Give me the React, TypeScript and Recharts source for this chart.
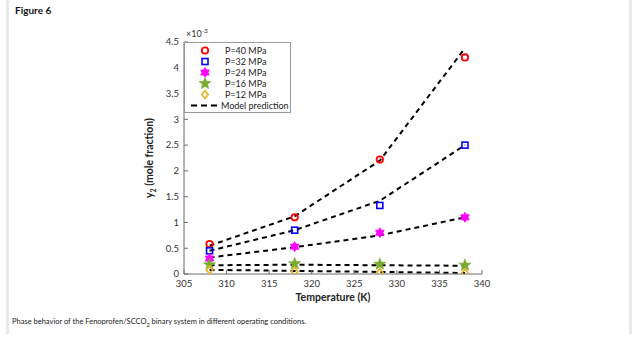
import React from "react";
import { ComposedChart, Line, Scatter, XAxis, YAxis } from "recharts";

// temperatures (K)
const temps = [308, 318, 328, 338];
const xTicks = [305, 310, 315, 320, 325, 330, 335, 340];
const yTicks = [0, 0.5, 1, 1.5, 2, 2.5, 3, 3.5, 4, 4.5];

// measured y2 (x 1e-3)
const p40 = [0.58, 1.1, 2.22, 4.2];
const p32 = [0.45, 0.85, 1.33, 2.5];
const p24 = [0.3, 0.53, 0.8, 1.1];
const p16 = [0.18, 0.2, 0.19, 0.17];
const p12 = [0.08, 0.05, 0.03, 0.02];

// model prediction (x 1e-3)
const m40 = [0.55, 1.12, 2.2, 4.38];
const m32 = [0.45, 0.85, 1.42, 2.5];
const m24 = [0.32, 0.52, 0.75, 1.1];
const m16 = [0.17, 0.18, 0.17, 0.16];
const m12 = [0.08, 0.06, 0.04, 0.02];

const toPts = (vals: number[]) => temps.map((t, i) => ({ t, y: vals[i] }));

const font = "Lato, 'Open Sans', sans-serif";
const axisColor = "#6b6b6b";

type Kind = "circle" | "square" | "hexagram" | "star" | "diamond";

function starPath(cx: number, cy: number, n: number, ro: number, ri: number) {
  let d = "";
  for (let i = 0; i < n * 2; i++) {
    const r = i % 2 === 0 ? ro : ri;
    const a = -Math.PI / 2 + (i * Math.PI) / n;
    d += (i === 0 ? "M" : "L") + (cx + r * Math.cos(a)).toFixed(2) + "," + (cy + r * Math.sin(a)).toFixed(2);
  }
  return d + "Z";
}

function Marker({ kind, cx, cy }: { kind: Kind; cx: number; cy: number }) {
  if (kind === "circle")
    return <circle cx={cx} cy={cy} r={3.2} fill="none" stroke="#ff0000" strokeWidth={1.8} />;
  if (kind === "square")
    return <rect x={cx - 3} y={cy - 3} width={6} height={6} fill="none" stroke="#0000ff" strokeWidth={1.6} />;
  if (kind === "hexagram")
    return <path d={starPath(cx, cy, 6, 5, 3)} fill="#ff00ff" stroke="#ff00ff" strokeWidth={0.8} />;
  if (kind === "star")
    return <path d={starPath(cx, cy, 5, 6.5, 2.7)} fill="#77ac30" stroke="#77ac30" strokeWidth={0.5} />;
  return (
    <path
      d={`M${cx},${cy - 4}L${cx + 3.2},${cy}L${cx},${cy + 4}L${cx - 3.2},${cy}Z`}
      fill="none"
      stroke="#edb120"
      strokeWidth={1.6}
    />
  );
}

const shapeOf = (kind: Kind) => (props: any) => <Marker kind={kind} cx={props.cx} cy={props.cy} />;

const legendItems: { label: string; kind: Kind | "line" }[] = [
  { label: "P=40 MPa", kind: "circle" },
  { label: "P=32 MPa", kind: "square" },
  { label: "P=24 MPa", kind: "hexagram" },
  { label: "P=16 MPa", kind: "star" },
  { label: "P=12 MPa", kind: "diamond" },
  { label: "Model prediction", kind: "line" },
];

function LegendBox() {
  return (
    <div
      style={{
        position: "absolute",
        left: 184,
        top: 42,
        width: 105,
        background: "#fff",
        border: "1px solid #9a9a9a",
        fontFamily: font,
        fontSize: 9,
        color: "#222",
        padding: "2px 0 1px 0",
      }}
    >
      {legendItems.map((it) => (
        <div key={it.label} style={{ display: "flex", alignItems: "center", height: 11 }}>
          <svg width={36} height={11}>
            {it.kind === "line" ? (
              <line x1={6} x2={34} y1={5.5} y2={5.5} stroke="#000" strokeWidth={2} strokeDasharray="6 4" />
            ) : (
              <Marker kind={it.kind} cx={20} cy={5.5} />
            )}
          </svg>
          <span style={{ marginLeft: it.kind === "line" ? 0 : 4 }}>{it.label}</span>
        </div>
      ))}
    </div>
  );
}

function YTitle(props: any) {
  const vb = props.viewBox || {};
  const cx = 153;
  const cy = vb.y + vb.height / 2;
  return (
    <text
      x={cx}
      y={cy}
      transform={`rotate(-90 ${cx} ${cy})`}
      textAnchor="middle"
      fontFamily={font}
      fontSize={10.5}
      fontWeight="bold"
      fill="#222"
    >
      y<tspan fontSize={7} dy={3}>2</tspan>
      <tspan dy={-3}> (mole fraction)</tspan>
    </text>
  );
}

const series: { name: string; pts: number[]; model: number[]; kind: Kind }[] = [
  { name: "P=40 MPa", pts: p40, model: m40, kind: "circle" },
  { name: "P=32 MPa", pts: p32, model: m32, kind: "square" },
  { name: "P=24 MPa", pts: p24, model: m24, kind: "hexagram" },
  { name: "P=16 MPa", pts: p16, model: m16, kind: "star" },
  { name: "P=12 MPa", pts: p12, model: m12, kind: "diamond" },
];

const tickStyle = { fontFamily: font, fontSize: 9.5, fill: "#333" };

export default function App() {
  return (
    <div style={{ position: "absolute", left: 0, top: 0, width: 635, height: 338, background: "#fff", fontFamily: font }}>
      <div style={{ position: "absolute", left: 6, top: 0, width: 3, height: 334, background: "#e9e9e9" }} />
      <div style={{ position: "absolute", left: 629, top: 0, width: 3, height: 334, background: "#e9e9e9" }} />
      <div style={{ position: "absolute", left: 15, top: 4, fontSize: 10, fontWeight: "bold", color: "#111" }}>Figure 6</div>
      <div style={{ position: "absolute", left: 12, top: 317, fontSize: 7.5, color: "#222" }}>
        Phase behavior of the Fenoprofen/SCCO<sub style={{ fontSize: 5.5 }}>2</sub> binary system in different operating conditions.
      </div>
      <div style={{ position: "absolute", left: 186, top: 27, fontSize: 9, color: "#333" }}>
        ×10<sup style={{ fontSize: 6.5 }}>-3</sup>
      </div>
      <ComposedChart width={635} height={338} margin={{ top: 42, right: 153, bottom: 44, left: 154 }}>
        <XAxis
          xAxisId="b"
          type="number"
          dataKey="t"
          domain={[305, 340]}
          ticks={xTicks}
          allowDataOverflow
          stroke={axisColor}
          tickSize={-4}
          tickMargin={10}
          tick={tickStyle}
          height={20}
          label={{
            value: "Temperature (K)",
            position: "insideBottom",
            offset: -7,
            style: { fontFamily: font, fontSize: 10.5, fontWeight: "bold", fill: "#222" },
          }}
        />
        <XAxis
          xAxisId="t"
          orientation="top"
          type="number"
          dataKey="t"
          domain={[305, 340]}
          ticks={xTicks}
          stroke={axisColor}
          tickSize={-4}
          tick={false}
          height={0}
        />
        <YAxis
          yAxisId="l"
          type="number"
          domain={[0, 4.5]}
          ticks={yTicks}
          allowDataOverflow
          stroke={axisColor}
          tickSize={-4}
          tickMargin={9}
          tick={tickStyle}
          width={30}
          label={<YTitle />}
        />
        <YAxis
          yAxisId="r"
          orientation="right"
          type="number"
          domain={[0, 4.5]}
          ticks={yTicks}
          stroke={axisColor}
          tickSize={-4}
          tick={false}
          width={0}
        />
        {series.map((s) => (
          <Scatter
            key={"s" + s.name}
            xAxisId="b"
            yAxisId="l"
            name={s.name}
            data={toPts(s.pts)}
            dataKey="y"
            shape={shapeOf(s.kind)}
            isAnimationActive={false}
          />
        ))}
        {series.map((s) => (
          <Line
            key={"m" + s.name}
            xAxisId="b"
            yAxisId="l"
            data={toPts(s.model)}
            dataKey="y"
            type="linear"
            stroke="#000"
            strokeWidth={2}
            strokeDasharray="5 4"
            dot={false}
            activeDot={false}
            legendType="none"
            isAnimationActive={false}
          />
        ))}
      </ComposedChart>
      <LegendBox />
    </div>
  );
}
